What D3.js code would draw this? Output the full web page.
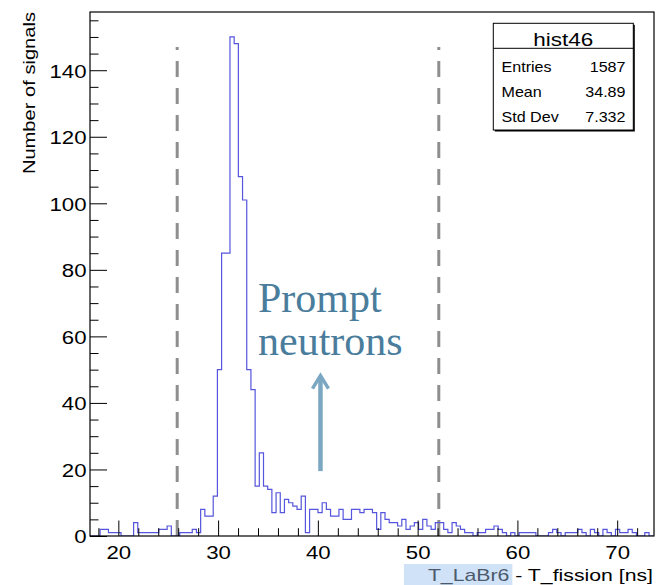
<!DOCTYPE html>
<html><head><meta charset="utf-8">
<script src="https://cdn.jsdelivr.net/npm/d3@7"></script>
<style>body{margin:0;background:#fff} svg{display:block}</style>
</head><body>
<svg id="c" width="658" height="585"></svg>
<script>
// ---------------- data ----------------
const binStart = 16.91;     // ns, low edge of first bin
const binWidth = 0.42;      // ns
const counts = [
  0,0,0,2,2,1,1,1,0,0,
  0,4,1,1,1,1,1,2,2,3,
  0,0,1,1,1,2,1,8,6,6,
  12,50,85,85,150,148,108,101,50,44,
  15,25,15,14,7,13,7,11,10,9,
  8,12,1,8,8,7,10,8,6,6,
  8,5,5,8,8,7,8,8,7,2,
  7,5,4,4,3,5,2,3,4,2,
  5,3,2,4,4,2,1,4,3,2,
  1,1,0,1,1,2,2,3,2,1,
  0,1,0,1,1,1,1,0,0,0,
  1,2,1,0,1,1,1,2,1,0,
  2,1,0,2,1,0,2,1,1,2,
  1,0,0,1,0
];
const xDomain = [17.16, 73.69];
const yDomain = [0, 157.5];
const xMajorTicks = [20, 30, 40, 50, 60, 70];
const xMinorTicks = [18,22,24,26,28,32,34,36,38,42,44,46,48,52,54,56,58,62,64,66,68,72];
const yMajorTicks = [0, 20, 40, 60, 80, 100, 120, 140];
const yMinorTicks = [5,10,15,25,30,35,45,50,55,65,70,75,85,90,95,105,110,115,125,130,135,145,150,155];
const cutLines = [25.9, 52.12];
const cutTop = 147;
const statsTitle = "hist46";
const statsLabels = ["Entries", "Mean", "Std Dev"];
const statsValues = ["1587", "34.89", "7.332"];
const xTitleHighlight = "T_LaBr6";
const xTitleRest = " - T_fission [ns]";
const yTitle = "Number of signals";
const annotationLines = ["Prompt", "neutrons"];
const annotationAnchor = [34.0, 67.3];   // data coords of first text line
const arrowData = {x: 40.26, from: 19.5, to: 48.2};

// ---------------- layout ----------------
const svg = d3.select("#c");
const L = 90, R = 654, T = 12, B = 536;
const x = d3.scaleLinear().domain(xDomain).range([L, R]);
const y = d3.scaleLinear().domain(yDomain).range([B, T]);
const sansFont = "'Liberation Sans', Arial, Helvetica, sans-serif";

svg.append("defs").append("clipPath").attr("id","fr")
  .append("rect").attr("x",L).attr("y",T).attr("width",R-L).attr("height",B-T);

// cut lines
svg.append("g").selectAll("line").data(cutLines).join("line")
  .attr("x1", d => x(d)).attr("x2", d => x(d))
  .attr("y1", y(0)).attr("y2", y(cutTop))
  .attr("stroke", "#8e8e8e").attr("stroke-width", 3)
  .attr("stroke-dasharray", "16,11");

// histogram
const pts = counts.map((c,i) => [binStart + i*binWidth, c]);
pts.push([binStart + counts.length*binWidth, counts[counts.length-1]]);
const line = d3.line().x(d => x(d[0])).y(d => y(d[1])).curve(d3.curveStepAfter);
svg.append("path").attr("clip-path","url(#fr)")
  .attr("d", line(pts)).attr("fill","none")
  .attr("stroke","#5555dd").attr("stroke-width",1.2);

// axes
function styleAxis(g){ g.select(".domain").remove(); g.selectAll("line").attr("stroke","#000").attr("stroke-width",1); }
const gx = svg.append("g").attr("transform",`translate(0,${B})`)
  .call(d3.axisBottom(x).tickValues(xMajorTicks).tickSizeInner(-15.5).tickSizeOuter(0).tickFormat(d3.format("d")));
styleAxis(gx);
gx.selectAll("text").attr("y",null).attr("dy",null)
  .attr("transform","translate(0,22.5) scale(1.2,1)")
  .attr("font-family",sansFont).attr("font-size",18.5).attr("fill","#000");
const gx2 = svg.append("g").attr("transform",`translate(0,${B})`)
  .call(d3.axisBottom(x).tickValues(xMinorTicks).tickSizeInner(-7.8).tickSizeOuter(0).tickFormat(""));
styleAxis(gx2);

const gy = svg.append("g").attr("transform",`translate(${L},0)`)
  .call(d3.axisLeft(y).tickValues(yMajorTicks).tickSizeInner(-17).tickSizeOuter(0).tickFormat(d3.format("d")));
styleAxis(gy);
gy.selectAll("text").attr("x",null).attr("dy",null)
  .attr("transform","translate(-3.5,6.8) scale(1.2,1)")
  .attr("font-family",sansFont).attr("font-size",18.5).attr("fill","#000");
const gy2 = svg.append("g").attr("transform",`translate(${L},0)`)
  .call(d3.axisLeft(y).tickValues(yMinorTicks).tickSizeInner(-8.5).tickSizeOuter(0).tickFormat(""));
styleAxis(gy2);

// frame
svg.append("rect").attr("x",L).attr("y",T).attr("width",R-L).attr("height",B-T)
  .attr("fill","none").attr("stroke","#000").attr("stroke-width",1.2);

// axis titles
svg.append("text").attr("transform",`translate(34.5,${T}) rotate(-90) scale(1.22,1)`)
  .attr("text-anchor","end").attr("font-family",sansFont).attr("font-size",16.5)
  .text(yTitle);

const hlRect = svg.append("rect").attr("fill","#cfe2f7");
const xt = svg.append("text").attr("transform",`translate(653,581) scale(1.25,1)`)
  .attr("text-anchor","end").attr("font-family",sansFont).attr("font-size",17);
xt.append("tspan").attr("fill","#4c5a6c").text(xTitleHighlight);
xt.append("tspan").attr("fill","#000").text(xTitleRest);
{
  const n = xt.node();
  const tot = n.getComputedTextLength()*1.25;
  const hl = n.getSubStringLength(0, xTitleHighlight.length)*1.25;
  const start = 653 - tot;
  hlRect.attr("x", start-24).attr("y",564).attr("width", hl+27).attr("height",21);
}

// stats box
const sb = {x:493.3, y:23.3, w:140, h:106.7};
svg.append("rect").attr("x",sb.x+1.5).attr("y",sb.y+1.5).attr("width",sb.w).attr("height",sb.h).attr("fill","#000");
svg.append("rect").attr("x",sb.x).attr("y",sb.y).attr("width",sb.w).attr("height",sb.h)
  .attr("fill","#fff").attr("stroke","#000").attr("stroke-width",1);
svg.append("line").attr("x1",sb.x).attr("x2",sb.x+sb.w).attr("y1",48.3).attr("y2",48.3).attr("stroke","#000");
svg.append("text").attr("transform",`translate(${sb.x+sb.w/2},46) scale(1.25,1)`)
  .attr("text-anchor","middle").attr("font-family",sansFont).attr("font-size",18).text(statsTitle);
const rowY = [71.5, 96.5, 121.5];
svg.append("g").selectAll("text").data(statsLabels).join("text")
  .attr("transform",(d,i)=>`translate(501.5,${rowY[i]}) scale(1.15,1)`)
  .attr("font-family",sansFont).attr("font-size",14).text(d=>d);
svg.append("g").selectAll("text").data(statsValues).join("text")
  .attr("transform",(d,i)=>`translate(625.5,${rowY[i]}) scale(1.15,1)`)
  .attr("text-anchor","end").attr("font-family",sansFont).attr("font-size",14).text(d=>d);

// annotation
svg.append("g").selectAll("text").data(annotationLines).join("text")
  .attr("x", x(annotationAnchor[0]))
  .attr("y", (d,i) => y(annotationAnchor[1]) + i*43)
  .attr("font-family","'Liberation Serif', 'DejaVu Serif', serif").attr("font-size",42)
  .attr("fill","#4a7d9c").text(d=>d);
const ax = x(arrowData.x), ay0 = y(arrowData.from), ay1 = y(arrowData.to);
svg.append("line").attr("x1",ax).attr("x2",ax).attr("y1",ay0).attr("y2",ay1+3)
  .attr("stroke","#7ba7c2").attr("stroke-width",4.5);
svg.append("path").attr("d",`M${ax-8},${ay1+13} L${ax},${ay1} L${ax+8},${ay1+13}`)
  .attr("fill","none").attr("stroke","#7ba7c2").attr("stroke-width",3.5).attr("stroke-linejoin","miter");
</script>
</body></html>
